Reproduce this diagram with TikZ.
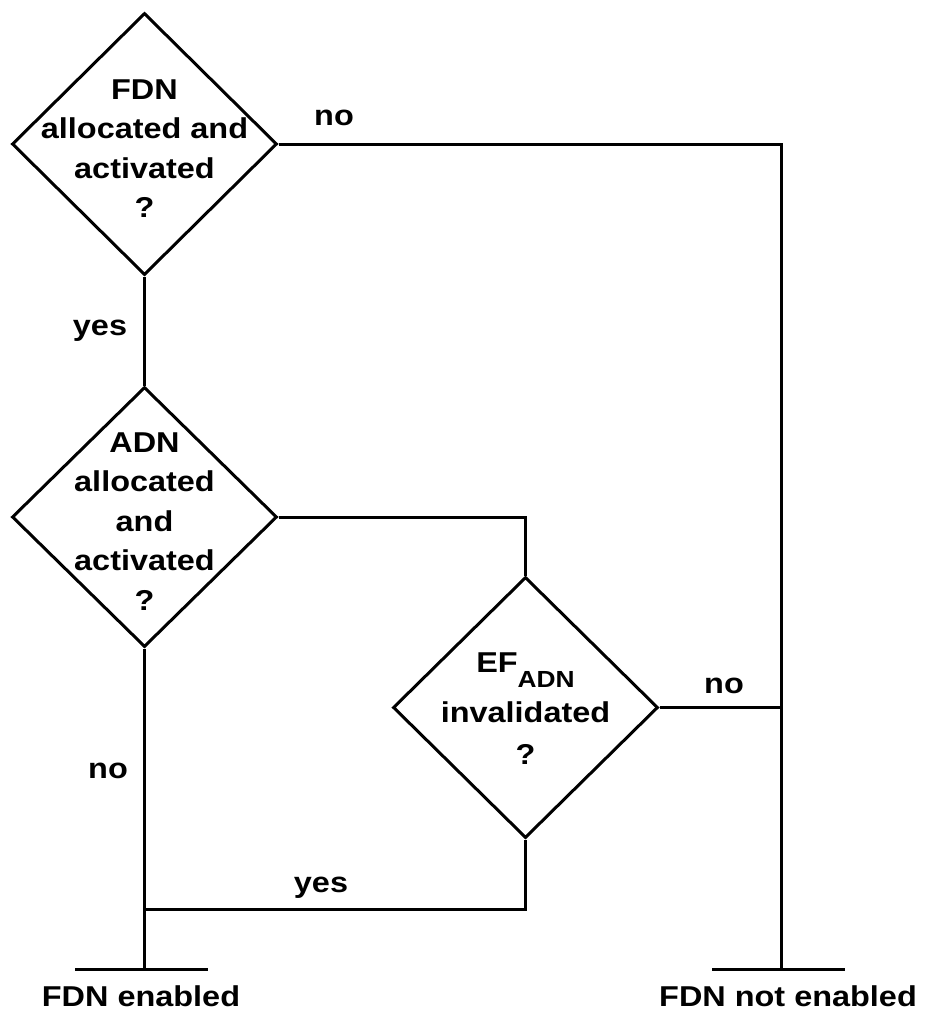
\documentclass[tikz,border=0pt]{standalone}
\usepackage{fontspec}
\setmainfont{Liberation Sans}[FakeStretch=1.13]
\usetikzlibrary{shapes.geometric}
\tikzset{
  dec/.style={draw, shape=diamond, inner sep=0pt, line width=3pt, minimum width=265pt},
  qtext/.style={font=\fontsize{28.7}{39.5}\selectfont\bfseries, align=center, inner sep=0pt, anchor=north},
  lbl/.style={font=\fontsize{28.7}{39.5}\selectfont\bfseries, inner sep=0pt, anchor=base},
  wire/.style={line width=3pt, line join=miter}
}
\begin{document}
\begin{tikzpicture}[x=1pt, y=-1pt]
\useasboundingbox (0,0) rectangle (926,1012);
% decisions
\node[dec, minimum height=262pt] (d1) at (144.5,144) {};
\node[dec, minimum height=260pt] (d2) at (144.5,517) {};
\node[dec, minimum height=261pt] (d3) at (525.5,707.5) {};
\node[qtext] (t1) at (144.5,79.5) {FDN\\allocated and\\activated\\?};
\node[qtext] (t2) at (144.5,432.5) {ADN\\allocated\\and\\activated\\?};
\node[qtext] (t3) at (525.5,652.5) {EF\raisebox{-15pt}{\fontsize{23.3}{28}\selectfont ADN}\\[10.5pt]invalidated\\[2.5pt]?};
% junction coordinates
\coordinate (c1) at (781,144);
\coordinate (j3) at (781,707.5);
\coordinate (c2) at (525.5,517);
\coordinate (c3) at (525.5,909);
\coordinate (j1) at (144.5,909);
\coordinate (e1) at (144.5,969);
\coordinate (e2) at (781,969);
\coordinate (b1l) at (75,969);
\coordinate (b1r) at (208,969);
\coordinate (b2l) at (712,969);
\coordinate (b2r) at (845,969);
% connectors
\draw[wire] (d1.east) -- (c1) -- (e2);
\draw[wire] (d1.south) -- (d2.north);
\draw[wire] (d2.east) -- (c2) -- (d3.north);
\draw[wire] (d3.east) -- (j3);
\draw[wire] (d2.south) -- (e1);
\draw[wire] (d3.south) -- (c3) -- (j1);
\draw[wire] (b1l) -- (b1r);
\draw[wire] (b2l) -- (b2r);
% labels
\node[lbl] (l1) at (334,125) {no};
\node[lbl] (l2) at (100,335) {yes};
\node[lbl] (l3) at (724,693) {no};
\node[lbl] (l4) at (108,778) {no};
\node[lbl] (l5) at (321,892) {yes};
\node[lbl] (o1) at (141,1006.5) {FDN enabled};
\node[lbl] (o2) at (788,1006.5) {FDN not enabled};
\end{tikzpicture}
\end{document}
